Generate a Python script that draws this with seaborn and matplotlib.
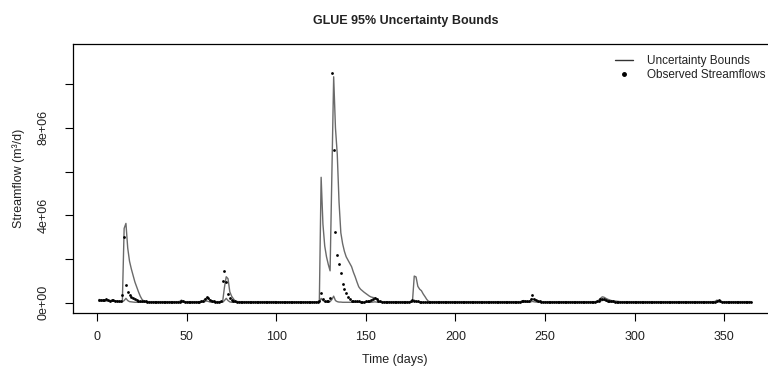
import matplotlib
matplotlib.use("Agg")
import matplotlib.pyplot as plt
import seaborn as sns
import pandas as pd
import numpy as np
from matplotlib.lines import Line2D

# ---------------- data (daily values, millions of m3/d) ----------------
days = list(range(1, 366))

observed = [
    0.14, 0.12, 0.13, 0.11, 0.15, 0.12, 0.10, 0.12, 0.11, 0.10,
    0.10, 0.10, 0.10, 0.35, 3.02, 0.81, 0.47, 0.35, 0.28, 0.22,
    0.17, 0.13, 0.10, 0.08, 0.07, 0.06, 0.06, 0.05, 0.05, 0.05,
    0.05, 0.05, 0.04, 0.04, 0.04, 0.04, 0.04, 0.04, 0.04, 0.04,
    0.04, 0.04, 0.04, 0.04, 0.04, 0.05, 0.10, 0.06, 0.04, 0.04,
    0.04, 0.04, 0.04, 0.04, 0.04, 0.04, 0.05, 0.06, 0.08, 0.15,
    0.25, 0.22, 0.12, 0.08, 0.06, 0.05, 0.05, 0.05, 0.06, 1.00,
    1.47, 0.95, 0.42, 0.20, 0.12, 0.08, 0.06, 0.05, 0.05, 0.04,
    0.04, 0.04, 0.04, 0.04, 0.04, 0.04, 0.04, 0.04, 0.04, 0.04,
    0.04, 0.04, 0.04, 0.04, 0.04, 0.04, 0.04, 0.04, 0.04, 0.04,
    0.03, 0.03, 0.03, 0.03, 0.03, 0.03, 0.03, 0.03, 0.03, 0.03,
    0.03, 0.03, 0.03, 0.03, 0.03, 0.03, 0.03, 0.03, 0.03, 0.03,
    0.03, 0.03, 0.04, 0.10, 0.46, 0.15, 0.10, 0.08, 0.10, 0.20,
    10.50, 7.00, 3.25, 2.18, 1.77, 1.34, 0.86, 0.64, 0.43, 0.25,
    0.15, 0.10, 0.08, 0.07, 0.06, 0.06, 0.05, 0.05, 0.05, 0.06,
    0.08, 0.10, 0.12, 0.18, 0.20, 0.18, 0.10, 0.06, 0.05, 0.05,
    0.05, 0.05, 0.05, 0.05, 0.05, 0.05, 0.05, 0.05, 0.05, 0.05,
    0.05, 0.05, 0.05, 0.05, 0.06, 0.12, 0.10, 0.07, 0.06, 0.05,
    0.05, 0.05, 0.05, 0.05, 0.05, 0.05, 0.05, 0.05, 0.05, 0.05,
    0.05, 0.05, 0.05, 0.05, 0.05, 0.05, 0.05, 0.05, 0.05, 0.05,
    0.05, 0.05, 0.05, 0.05, 0.05, 0.05, 0.05, 0.05, 0.05, 0.05,
    0.05, 0.05, 0.05, 0.05, 0.05, 0.05, 0.05, 0.05, 0.05, 0.05,
    0.05, 0.05, 0.05, 0.05, 0.05, 0.05, 0.05, 0.05, 0.05, 0.05,
    0.05, 0.05, 0.05, 0.05, 0.05, 0.05, 0.06, 0.10, 0.08, 0.06,
    0.08, 0.15, 0.35, 0.18, 0.12, 0.08, 0.06, 0.05, 0.05, 0.05,
    0.05, 0.05, 0.05, 0.05, 0.05, 0.05, 0.05, 0.05, 0.05, 0.05,
    0.05, 0.05, 0.05, 0.05, 0.05, 0.05, 0.05, 0.05, 0.05, 0.05,
    0.05, 0.05, 0.05, 0.05, 0.05, 0.05, 0.05, 0.05, 0.07, 0.10,
    0.15, 0.18, 0.15, 0.12, 0.10, 0.08, 0.07, 0.06, 0.05, 0.05,
    0.05, 0.05, 0.05, 0.05, 0.05, 0.05, 0.05, 0.05, 0.05, 0.05,
    0.05, 0.05, 0.05, 0.05, 0.05, 0.05, 0.05, 0.05, 0.05, 0.05,
    0.05, 0.05, 0.05, 0.05, 0.05, 0.05, 0.05, 0.05, 0.05, 0.05,
    0.05, 0.05, 0.05, 0.05, 0.05, 0.05, 0.05, 0.05, 0.05, 0.05,
    0.05, 0.05, 0.05, 0.05, 0.05, 0.05, 0.05, 0.05, 0.05, 0.05,
    0.05, 0.05, 0.05, 0.05, 0.05, 0.10, 0.12, 0.07, 0.05, 0.05,
    0.05, 0.05, 0.05, 0.05, 0.05, 0.05, 0.05, 0.05, 0.05, 0.05,
    0.05, 0.05, 0.05, 0.05, 0.05,
]

upper_bound = [
    0.15, 0.13, 0.12, 0.12, 0.13, 0.11, 0.10, 0.10, 0.09, 0.09,
    0.08, 0.07, 0.06, 0.06, 3.40, 3.63, 2.50, 1.90, 1.55, 1.25,
    0.95, 0.72, 0.50, 0.30, 0.15, 0.08, 0.06, 0.05, 0.05, 0.05,
    0.05, 0.05, 0.05, 0.05, 0.05, 0.05, 0.05, 0.05, 0.05, 0.05,
    0.05, 0.05, 0.05, 0.05, 0.05, 0.06, 0.12, 0.07, 0.05, 0.05,
    0.05, 0.05, 0.05, 0.05, 0.05, 0.05, 0.05, 0.06, 0.08, 0.15,
    0.22, 0.20, 0.12, 0.08, 0.06, 0.05, 0.05, 0.05, 0.05, 0.05,
    0.70, 1.19, 1.10, 0.50, 0.30, 0.18, 0.08, 0.06, 0.05, 0.05,
    0.05, 0.05, 0.05, 0.05, 0.05, 0.05, 0.05, 0.05, 0.05, 0.05,
    0.05, 0.05, 0.05, 0.05, 0.05, 0.05, 0.05, 0.05, 0.05, 0.05,
    0.04, 0.04, 0.04, 0.04, 0.04, 0.04, 0.04, 0.04, 0.04, 0.04,
    0.04, 0.04, 0.04, 0.04, 0.04, 0.04, 0.04, 0.04, 0.04, 0.04,
    0.04, 0.04, 0.05, 0.08, 5.74, 3.60, 2.60, 2.10, 1.75, 1.46,
    5.90, 10.34, 8.00, 6.80, 4.60, 3.20, 2.70, 2.35, 2.10, 1.95,
    1.80, 1.65, 1.40, 1.19, 0.95, 0.73, 0.62, 0.55, 0.48, 0.42,
    0.36, 0.30, 0.26, 0.24, 0.22, 0.18, 0.08, 0.05, 0.05, 0.05,
    0.05, 0.05, 0.05, 0.05, 0.05, 0.05, 0.05, 0.05, 0.05, 0.05,
    0.05, 0.05, 0.05, 0.05, 0.05, 0.06, 1.22, 1.18, 0.75, 0.62,
    0.55, 0.40, 0.28, 0.15, 0.06, 0.05, 0.05, 0.05, 0.05, 0.05,
    0.05, 0.05, 0.05, 0.05, 0.05, 0.05, 0.05, 0.05, 0.05, 0.05,
    0.05, 0.05, 0.05, 0.05, 0.05, 0.05, 0.05, 0.05, 0.05, 0.05,
    0.05, 0.05, 0.05, 0.05, 0.05, 0.05, 0.05, 0.05, 0.05, 0.05,
    0.05, 0.05, 0.05, 0.05, 0.05, 0.05, 0.05, 0.05, 0.05, 0.05,
    0.05, 0.05, 0.05, 0.05, 0.05, 0.05, 0.06, 0.10, 0.08, 0.06,
    0.06, 0.10, 0.18, 0.15, 0.10, 0.07, 0.05, 0.05, 0.05, 0.05,
    0.05, 0.05, 0.05, 0.05, 0.05, 0.05, 0.05, 0.05, 0.05, 0.05,
    0.05, 0.05, 0.05, 0.05, 0.05, 0.05, 0.05, 0.05, 0.05, 0.05,
    0.05, 0.05, 0.05, 0.05, 0.05, 0.05, 0.05, 0.05, 0.07, 0.12,
    0.20, 0.27, 0.25, 0.20, 0.16, 0.13, 0.10, 0.09, 0.08, 0.07,
    0.06, 0.05, 0.05, 0.05, 0.05, 0.05, 0.05, 0.05, 0.05, 0.05,
    0.05, 0.05, 0.05, 0.05, 0.05, 0.05, 0.05, 0.05, 0.05, 0.05,
    0.05, 0.05, 0.05, 0.05, 0.05, 0.05, 0.05, 0.05, 0.05, 0.05,
    0.05, 0.05, 0.05, 0.05, 0.05, 0.05, 0.05, 0.05, 0.05, 0.05,
    0.05, 0.05, 0.05, 0.05, 0.05, 0.05, 0.05, 0.05, 0.05, 0.05,
    0.05, 0.05, 0.05, 0.05, 0.06, 0.12, 0.08, 0.05, 0.05, 0.05,
    0.05, 0.05, 0.05, 0.05, 0.05, 0.05, 0.05, 0.05, 0.05, 0.05,
    0.05, 0.05, 0.05, 0.05, 0.05,
]

lower_bound = [
    0.08, 0.08, 0.08, 0.08, 0.08, 0.08, 0.08, 0.08, 0.08, 0.08,
    0.06, 0.05, 0.04, 0.04, 0.10, 0.20, 0.10, 0.05, 0.04, 0.03,
    0.02, 0.02, 0.02, 0.02, 0.02, 0.02, 0.02, 0.02, 0.02, 0.02,
    0.02, 0.02, 0.02, 0.02, 0.02, 0.02, 0.02, 0.02, 0.02, 0.02,
    0.02, 0.02, 0.02, 0.02, 0.02, 0.02, 0.05, 0.02, 0.02, 0.02,
    0.02, 0.02, 0.02, 0.02, 0.02, 0.02, 0.02, 0.02, 0.03, 0.05,
    0.08, 0.06, 0.03, 0.02, 0.02, 0.02, 0.02, 0.02, 0.02, 0.02,
    0.10, 0.20, 0.10, 0.04, 0.02, 0.02, 0.02, 0.02, 0.02, 0.02,
    0.02, 0.02, 0.02, 0.02, 0.02, 0.02, 0.02, 0.02, 0.02, 0.02,
    0.02, 0.02, 0.02, 0.02, 0.02, 0.02, 0.02, 0.02, 0.02, 0.02,
    0.02, 0.02, 0.02, 0.02, 0.02, 0.02, 0.02, 0.02, 0.02, 0.02,
    0.02, 0.02, 0.02, 0.02, 0.02, 0.02, 0.02, 0.02, 0.02, 0.02,
    0.02, 0.02, 0.02, 0.02, 0.20, 0.10, 0.05, 0.03, 0.03, 0.05,
    0.15, 0.30, 0.10, 0.05, 0.03, 0.03, 0.02, 0.02, 0.02, 0.02,
    0.02, 0.02, 0.02, 0.02, 0.02, 0.02, 0.02, 0.02, 0.02, 0.02,
    0.02, 0.02, 0.02, 0.03, 0.04, 0.03, 0.02, 0.02, 0.02, 0.02,
    0.02, 0.02, 0.02, 0.02, 0.02, 0.02, 0.02, 0.02, 0.02, 0.02,
    0.02, 0.02, 0.02, 0.02, 0.02, 0.03, 0.12, 0.06, 0.03, 0.02,
    0.02, 0.02, 0.02, 0.02, 0.02, 0.02, 0.02, 0.02, 0.02, 0.02,
    0.02, 0.02, 0.02, 0.02, 0.02, 0.02, 0.02, 0.02, 0.02, 0.02,
    0.02, 0.02, 0.02, 0.02, 0.02, 0.02, 0.02, 0.02, 0.02, 0.02,
    0.02, 0.02, 0.02, 0.02, 0.02, 0.02, 0.02, 0.02, 0.02, 0.02,
    0.02, 0.02, 0.02, 0.02, 0.02, 0.02, 0.02, 0.02, 0.02, 0.02,
    0.02, 0.02, 0.02, 0.02, 0.02, 0.02, 0.02, 0.04, 0.03, 0.02,
    0.02, 0.04, 0.06, 0.04, 0.03, 0.02, 0.02, 0.02, 0.02, 0.02,
    0.02, 0.02, 0.02, 0.02, 0.02, 0.02, 0.02, 0.02, 0.02, 0.02,
    0.02, 0.02, 0.02, 0.02, 0.02, 0.02, 0.02, 0.02, 0.02, 0.02,
    0.02, 0.02, 0.02, 0.02, 0.02, 0.02, 0.02, 0.02, 0.03, 0.05,
    0.08, 0.10, 0.12, 0.08, 0.05, 0.04, 0.03, 0.02, 0.02, 0.02,
    0.02, 0.02, 0.02, 0.02, 0.02, 0.02, 0.02, 0.02, 0.02, 0.02,
    0.02, 0.02, 0.02, 0.02, 0.02, 0.02, 0.02, 0.02, 0.02, 0.02,
    0.02, 0.02, 0.02, 0.02, 0.02, 0.02, 0.02, 0.02, 0.02, 0.02,
    0.02, 0.02, 0.02, 0.02, 0.02, 0.02, 0.02, 0.02, 0.02, 0.02,
    0.02, 0.02, 0.02, 0.02, 0.02, 0.02, 0.02, 0.02, 0.02, 0.02,
    0.02, 0.02, 0.02, 0.02, 0.02, 0.04, 0.05, 0.03, 0.02, 0.02,
    0.02, 0.02, 0.02, 0.02, 0.02, 0.02, 0.02, 0.02, 0.02, 0.02,
    0.02, 0.02, 0.02, 0.02, 0.02,
]

y_ticks = [0, 2e6, 4e6, 6e6, 8e6, 10e6]
y_tick_labels = ["0e+00", "", "4e+06", "", "8e+06", ""]
x_ticks = [0, 50, 100, 150, 200, 250, 300, 350]
legend_labels = ["Uncertainty Bounds", "Observed Streamflows"]

SCALE = 1e6

# ---------------- plotting ----------------
sns.set_theme(style="white")
plt.rcParams["font.family"] = ["Liberation Sans", "DejaVu Sans"]

df = pd.DataFrame({
    "day": days,
    "obs": np.array(observed) * SCALE,
    "upper": np.array(upper_bound) * SCALE,
    "lower": np.array(lower_bound) * SCALE,
})

W, H = 768, 373
fig = plt.figure(figsize=(W / 100, H / 100), dpi=100)
ax = fig.add_axes([73 / W, (H - 313) / H, (777 - 73) / W, (313 - 44) / H])

line_col = "#6a6a6a"
sns.lineplot(data=df, x="day", y="upper", ax=ax, color=line_col, lw=1.0)
sns.lineplot(data=df, x="day", y="lower", ax=ax, color=line_col, lw=1.0)
sns.scatterplot(data=df, x="day", y="obs", ax=ax, color="black", s=4,
                linewidth=0, zorder=3)

ax.set_xlim(-13.56, 379.56)
ax.set_ylim(-0.47e6, 11.84e6)
ax.set_xticks(x_ticks)
ax.set_xticklabels([str(v) for v in x_ticks])
ax.set_yticks(y_ticks)
ax.set_yticklabels(y_tick_labels, rotation=90, va="center")
ax.set_xlabel("")
ax.set_ylabel("")
ax.tick_params(axis="both", direction="out", length=6, width=0.8,
               color="black", labelsize=9, labelcolor="#222222",
               bottom=True, left=True)
ax.tick_params(axis="x", pad=7)
ax.tick_params(axis="y", pad=11)
for s in ax.spines.values():
    s.set_visible(True)
    s.set_color("black")
    s.set_linewidth(0.9)
ax.grid(False)

fig.text(406 / W, 1 - 21 / H, "GLUE 95% Uncertainty Bounds", ha="center",
         va="center", fontsize=9, fontweight="bold", color="#222222")
fig.text(395 / W, 1 - 360 / H, "Time (days)", ha="center", va="center",
         fontsize=9, color="#222222")
fig.text(19 / W, 1 - 178 / H, "Streamflow (m³/d)", ha="center",
         va="center", rotation=90, fontsize=9, color="#222222")

handles = [Line2D([], [], color="#333333", lw=1.0),
           Line2D([], [], color="black", marker="o", ls="", markersize=2.5)]
ax.legend(handles, legend_labels,
          loc="upper left", bbox_to_anchor=(615 / W, 1 - 55 / H),
          bbox_transform=fig.transFigure, frameon=False, fontsize=8.5,
          handlelength=1.5, handletextpad=1.2, labelspacing=0.15,
          borderpad=0, borderaxespad=0, labelcolor="#222222")

fig.savefig("out.png", dpi=100)
